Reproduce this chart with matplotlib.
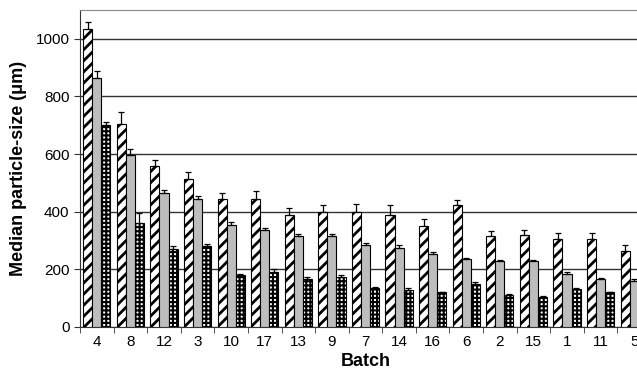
import numpy as np
import matplotlib
matplotlib.use("Agg")
import matplotlib.pyplot as plt

plt.rcParams['font.family'] = ['Liberation Sans', 'DejaVu Sans']

# batches in plotted order
batches = ["4", "8", "12", "3", "10", "17", "13", "9", "7", "14", "16", "6", "2", "15", "1", "11", "5"]

# three series per batch (hatched, grey, checkered) with upper error
hatched = [1035, 705, 560, 515, 445, 445, 390, 400, 400, 390, 350, 422, 315, 320, 305, 305, 262]
hatched_err = [25, 40, 18, 22, 20, 27, 22, 22, 27, 35, 25, 20, 18, 18, 20, 20, 22]
grey = [865, 598, 465, 445, 355, 335, 315, 315, 285, 275, 255, 235, 228, 228, 185, 165, 160]
grey_err = [25, 18, 12, 10, 10, 8, 8, 8, 8, 8, 5, 5, 5, 5, 5, 5, 5]
check = [700, 360, 270, 280, 182, 190, 165, 175, 135, 130, 120, 150, 112, 105, 133, 120, 120]
check_err = [10, 35, 10, 8, 3, 12, 8, 5, 3, 7, 3, 5, 3, 3, 4, 3, 3]

fig = plt.figure(figsize=(6.37, 3.73), dpi=100)
ax = fig.add_axes([80/637, 1 - 327/373, 571/637, 317/373])

x = np.arange(len(batches))
w = 0.27
errkw = dict(ecolor="black", elinewidth=0.9, capsize=2.5, capthick=0.9)

def up(e):
    return [np.zeros(len(e)), e]

with plt.rc_context({'hatch.linewidth': 2.0}):
    ax.bar(x - w, hatched, w, color="white", edgecolor="black", hatch="///",
           linewidth=0.8, yerr=up(hatched_err), error_kw=errkw, zorder=3)
ax.bar(x, grey, w, color="#bdbdbd", edgecolor="black", linewidth=0.8,
       yerr=up(grey_err), error_kw=errkw, zorder=3)
with plt.rc_context({'hatch.linewidth': 1.5}):
    ax.bar(x + w, check, w, color="white", edgecolor="black", hatch="++++",
           linewidth=0.8, yerr=up(check_err), error_kw=errkw, zorder=3)

ax.set_xlim(-0.5, len(batches) - 0.5)
ax.set_ylim(0, 1100)
ax.set_yticks(range(0, 1001, 200))
ax.yaxis.grid(True, color="#333333", linewidth=1.0)
ax.set_axisbelow(True)

ax.set_xticks(x)
ax.set_xticklabels(batches)
ax.set_xticks(np.arange(-0.5, len(batches), 1), minor=True)
ax.tick_params(axis="x", which="major", length=0, labelsize=11, pad=6)
ax.tick_params(axis="x", which="minor", length=4, direction="out", color="#333333")
ax.tick_params(axis="y", length=4, direction="out", labelsize=11, color="#333333")

for s in ["left", "bottom"]:
    ax.spines[s].set_color("#333333")
ax.spines["top"].set_color("#888888")
ax.spines["right"].set_visible(False)

ax.set_xlabel("Batch", fontsize=13, fontweight="bold", labelpad=3)
ax.set_ylabel("Median particle-size (μm)", fontsize=13, fontweight="bold", labelpad=6)

fig.savefig("out.png", dpi=100)
